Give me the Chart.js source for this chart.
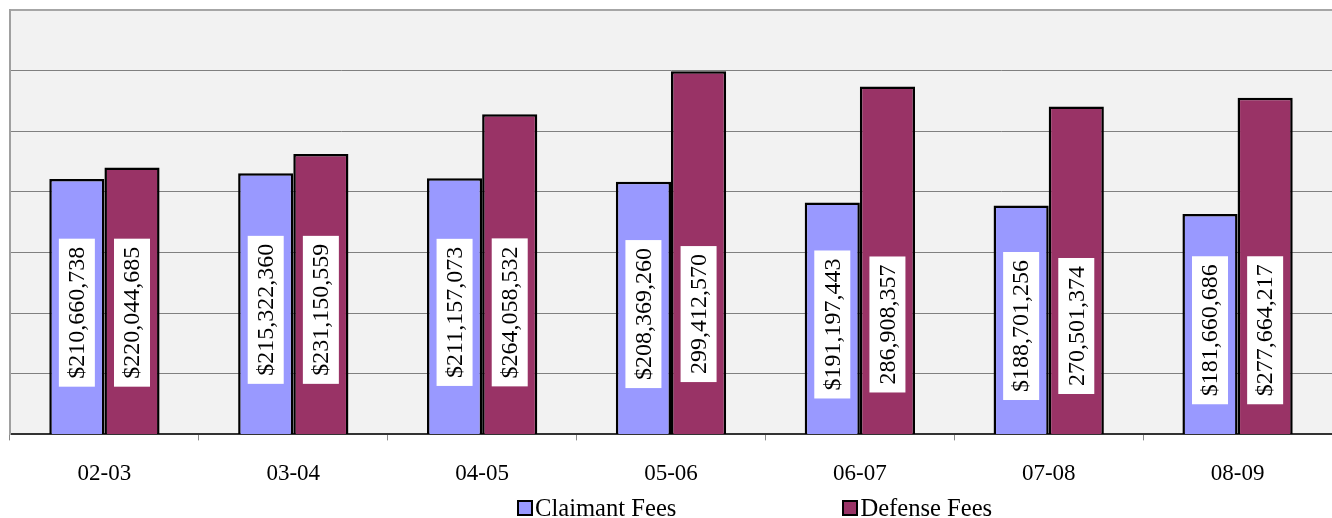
<!DOCTYPE html>
<html>
<head>
<meta charset="utf-8">
<script src="https://cdn.jsdelivr.net/npm/chart.js@4.4.1/dist/chart.umd.min.js"></script>
<style>
  html, body { margin: 0; padding: 0; background: #fff; }
  #wrap { position: relative; width: 1332px; height: 518px; }
  #legend {
    position: absolute; left: 517px; top: 494px;
    display: flex; gap: 166px; white-space: nowrap;
    font-family: "Liberation Serif", "Times New Roman", serif; font-size: 24.6px; color: #000;
  }
  #legend span.item { display: flex; align-items: center; }
  #legend span.box { width: 12px; height: 12px; border: 2px solid #000; margin-right: 2px; display: inline-block; }
</style>
</head>
<body>
<div id="wrap">
  <canvas id="fees-chart" width="1332" height="518"></canvas>
  <div id="legend"></div>
</div>
<script>
const years = ['02-03', '03-04', '04-05', '05-06', '06-07', '07-08', '08-09'];
const claimantFees = [210660738, 215322360, 211157073, 208369260, 191197443, 188701256, 181660686];
const defenseFees = [220044685, 231150559, 264058532, 299412570, 286908357, 270501374, 277664217];
// some defense labels were shown without a dollar sign
const defenseDollar = [true, true, true, false, false, false, true];
const seriesNames = ['Claimant Fees', 'Defense Fees'];
const seriesColors = ['#9999ff', '#993366'];

const fmt = (v, dollar) => (dollar ? '$' : '') + v.toLocaleString('en-US');

const barLabels = {
    id: 'barLabels',
    afterDatasetsDraw(chart) {
        const ctx = chart.ctx;
        const y = chart.scales.y;
        const base = y.getPixelForValue(0);
        ctx.save();
        ctx.font = '24px "Liberation Serif", "Times New Roman", serif';
        ctx.textAlign = 'center';
        ctx.textBaseline = 'middle';
        chart.data.datasets.forEach((ds, di) => {
            const meta = chart.getDatasetMeta(di);
            meta.data.forEach((bar, i) => {
                const text = di === 0 ? fmt(claimantFees[i], true) : fmt(defenseFees[i], defenseDollar[i]);
                const cy = (y.getPixelForValue(claimantFees[i]) + base) / 2 + 6;
                const w = ctx.measureText(text).width + 16;
                ctx.save();
                ctx.translate(bar.x, cy);
                ctx.rotate(-Math.PI / 2);
                ctx.fillStyle = '#fff';
                ctx.fillRect(-w / 2, -18, w, 36);
                ctx.fillStyle = '#000';
                ctx.fillText(text, 0, 1);
                ctx.restore();
            });
        });
        ctx.restore();
    }
};

const plotBg = {
    id: 'plotBg',
    beforeDraw(chart) {
        const a = chart.chartArea;
        chart.ctx.save();
        chart.ctx.fillStyle = '#f2f2f2';
        chart.ctx.fillRect(a.left, a.top, a.right - a.left, a.bottom - a.top);
        chart.ctx.restore();
    }
};

document.addEventListener('DOMContentLoaded', () => {
    const ctx = document.getElementById('fees-chart').getContext('2d');
    new Chart(ctx, {
        type: 'bar',
        data: {
            labels: years,
            datasets: [
                { label: seriesNames[0], data: claimantFees, backgroundColor: seriesColors[0], borderColor: '#000', borderWidth: 2.5 },
                { label: seriesNames[1], data: defenseFees, backgroundColor: seriesColors[1], borderColor: '#000', borderWidth: 2.5 }
            ]
        },
        options: {
            responsive: false,
            animation: false,
            layout: { padding: { left: 10, top: 10, right: 0, bottom: 10 } },
            datasets: { bar: { categoryPercentage: 0.584, barPercentage: 1.0 } },
            plugins: {
                legend: { display: false },
                tooltip: { enabled: false }
            },
            scales: {
                x: {
                    grid: { drawOnChartArea: false, tickLength: 6, color: '#888', offset: true },
                    border: { color: '#333', width: 2 },
                    ticks: {
                        padding: 20,
                        color: '#000',
                        font: { family: '"Liberation Serif", "Times New Roman", serif', size: 23 }
                    }
                },
                y: {
                    min: 0,
                    max: 350000000,
                    ticks: { display: false, stepSize: 50000000 },
                    grid: {
                        drawTicks: false,
                        tickLength: 0,
                        color: (c) => c.tick && c.tick.value === 350000000 ? '#a6a6a6' : '#808080',
                        lineWidth: (c) => c.tick && c.tick.value === 350000000 ? 2 : 1
                    },
                    border: { color: '#a0a0a0', width: 2 }
                }
            }
        },
        plugins: [plotBg, barLabels]
    });

    const legend = document.getElementById('legend');
    seriesNames.forEach((name, i) => {
        const item = document.createElement('span');
        item.className = 'item';
        const box = document.createElement('span');
        box.className = 'box';
        box.style.background = seriesColors[i];
        item.appendChild(box);
        item.appendChild(document.createTextNode(name));
        legend.appendChild(item);
    });
});
</script>
</body>
</html>
